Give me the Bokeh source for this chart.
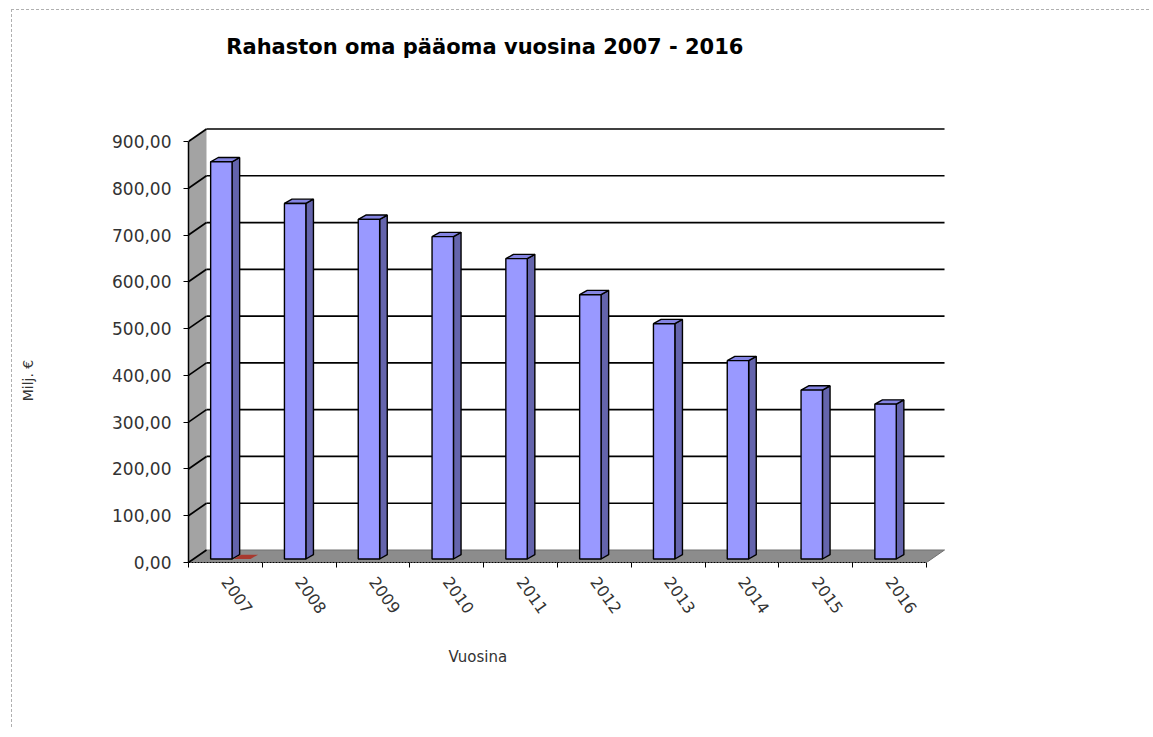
import math
from bokeh.plotting import figure
from bokeh.models import Range1d, FixedTicker, Title, Label
from bokeh.embed import file_html
from bokeh.resources import INLINE

# ---- data ----
vuodet = ["2007", "2008", "2009", "2010", "2011", "2012", "2013", "2014", "2015", "2016"]
oma_paaoma = [849, 760, 726, 689, 642, 565, 503, 424, 361, 331]
toinen_sarja = [0, None, None, None, None, None, None, None, None, None]
y_tikit = [0, 100, 200, 300, 400, 500, 600, 700, 800, 900]

# ---- 3D look (layout / style) ----
WALL_DX, WALL_DY = 0.244, 26.7      # depth of the walls
BAR_L, BAR_R = 0.30, 0.59           # front face within category
BAR_DX, BAR_DY = 0.103, 9.2         # depth of a column
BAR_B = 7.5                         # column base depth lift
RED_L, RED_R = 0.61, 0.84

n = len(vuodet)
FONT = "DejaVu Sans"

p = figure(width=1138, height=718, title=None,
           x_range=Range1d(0, 10.325), y_range=Range1d(0, 1137.2),
           output_backend="svg", toolbar_location=None,
           min_border_left=176, min_border_right=200,
           min_border_top=20, min_border_bottom=166,
           margin=(9, 0, 0, 11),
           styles={"border-top": "1px dashed #b0b0b0", "border-left": "1px dashed #b0b0b0"})
p.outline_line_color = None
p.xgrid.visible = False
p.ygrid.visible = False
p.background_fill_color = "white"
p.border_fill_color = "white"

top_v = y_tikit[-1]
# side wall
p.patch([0, WALL_DX, WALL_DX, 0], [0, WALL_DY, top_v + WALL_DY, top_v],
        fill_color="#a3a3a3", line_color=None)
# floor
p.patch([0, n, n + WALL_DX, WALL_DX], [0, 0, WALL_DY, WALL_DY],
        fill_color="#8c8c8c", line_color="#707070", line_width=1)

# gridlines: diagonal on side wall + horizontal on back wall
p.segment(x0=[0] * len(y_tikit), y0=y_tikit,
          x1=[WALL_DX] * len(y_tikit), y1=[g + WALL_DY for g in y_tikit],
          line_color="black", line_width=1.7)
gl = y_tikit[1:]
p.segment(x0=[WALL_DX] * len(gl), y0=[g + WALL_DY for g in gl],
          x1=[n + WALL_DX] * len(gl), y1=[g + WALL_DY for g in gl],
          line_color="black", line_width=1.7)

# columns
side_xs, side_ys, topf_xs, topf_ys = [], [], [], []
fx, ftop = [], []
for i, v in enumerate(oma_paaoma):
    L, R, T = i + BAR_L, i + BAR_R, BAR_B + v
    side_xs.append([R, R + BAR_DX, R + BAR_DX, R])
    side_ys.append([BAR_B, BAR_B + BAR_DY, T + BAR_DY, T])
    topf_xs.append([L, R, R + BAR_DX, L + BAR_DX])
    topf_ys.append([T, T, T + BAR_DY, T + BAR_DY])
    fx.append(i + (BAR_L + BAR_R) / 2)
    ftop.append(T)
p.patches(side_xs, side_ys, fill_color="#6464ac", line_color="black", line_width=1.4)
p.patches(topf_xs, topf_ys, fill_color="#8484e2", line_color="black", line_width=1.4)
p.vbar(x=fx, top=ftop, bottom=BAR_B, width=BAR_R - BAR_L,
       fill_color="#9999ff", line_color="black", line_width=1.4)

# second (near-zero) series
rx, ry = [], []
for i, v in enumerate(toinen_sarja):
    if v is None:
        continue
    b = BAR_B + v
    rx.append([i + RED_L, i + RED_R, i + RED_R + BAR_DX, i + RED_L + BAR_DX])
    ry.append([b, b, b + BAR_DY, b + BAR_DY])
p.patches(rx, ry, fill_color="#a8392f", line_color=None)

# y axis
ya = p.yaxis[0]
ya.ticker = FixedTicker(ticks=y_tikit)
ya.major_label_overrides = {t: f"{t:.2f}".replace(".", ",") for t in y_tikit}
ya.bounds = (0, top_v)
ya.axis_line_color = "black"
ya.axis_line_width = 1.5
ya.major_tick_out = 5
ya.major_tick_in = 0
ya.major_tick_line_width = 1.2
ya.minor_tick_line_color = None
ya.major_label_standoff = 12
ya.major_label_text_font = FONT
ya.major_label_text_font_size = "17px"
ya.major_label_text_color = "#333333"

# y title in the left side panel (not clipped by the frame)
p.add_layout(Label(x=-58, y=182, x_units="screen", y_units="screen",
                   text="Milj. €", angle=math.pi / 2,
                   text_font=FONT, text_font_size="14px",
                   text_align="center", text_baseline="bottom",
                   text_color="#333333"), "left")

# x axis
xa = p.xaxis[0]
centers = [i + 0.5 for i in range(n)]
xa.ticker = FixedTicker(ticks=centers, minor_ticks=list(range(n + 1)))
xa.major_label_overrides = {c: y for c, y in zip(centers, vuodet)}
xa.bounds = (0, n)
xa.axis_line_color = "black"
xa.axis_line_dash = "2 1"
xa.major_tick_line_color = None
xa.minor_tick_out = 5
xa.minor_tick_in = 0
xa.minor_tick_line_color = "black"
xa.major_label_orientation = -0.95
xa.major_label_standoff = 10
xa.major_label_text_font = FONT
xa.major_label_text_font_size = "16px"
xa.major_label_text_color = "#333333"

# chart title inside the (extended) frame
p.add_layout(Label(x=4.065, y=1100.9, text="Rahaston oma pääoma vuosina  2007 - 2016",
                   text_font=FONT, text_font_style="bold", text_font_size="21px",
                   text_align="center", text_baseline="middle", text_color="black"))

# x title below axis
p.add_layout(Title(text="Vuosina", align="left", offset=260, standoff=48,
                   text_font=FONT, text_font_size="15px", text_font_style="normal",
                   text_color="#333333"), "below")

open("out.html", "w").write(file_html(p, INLINE))
